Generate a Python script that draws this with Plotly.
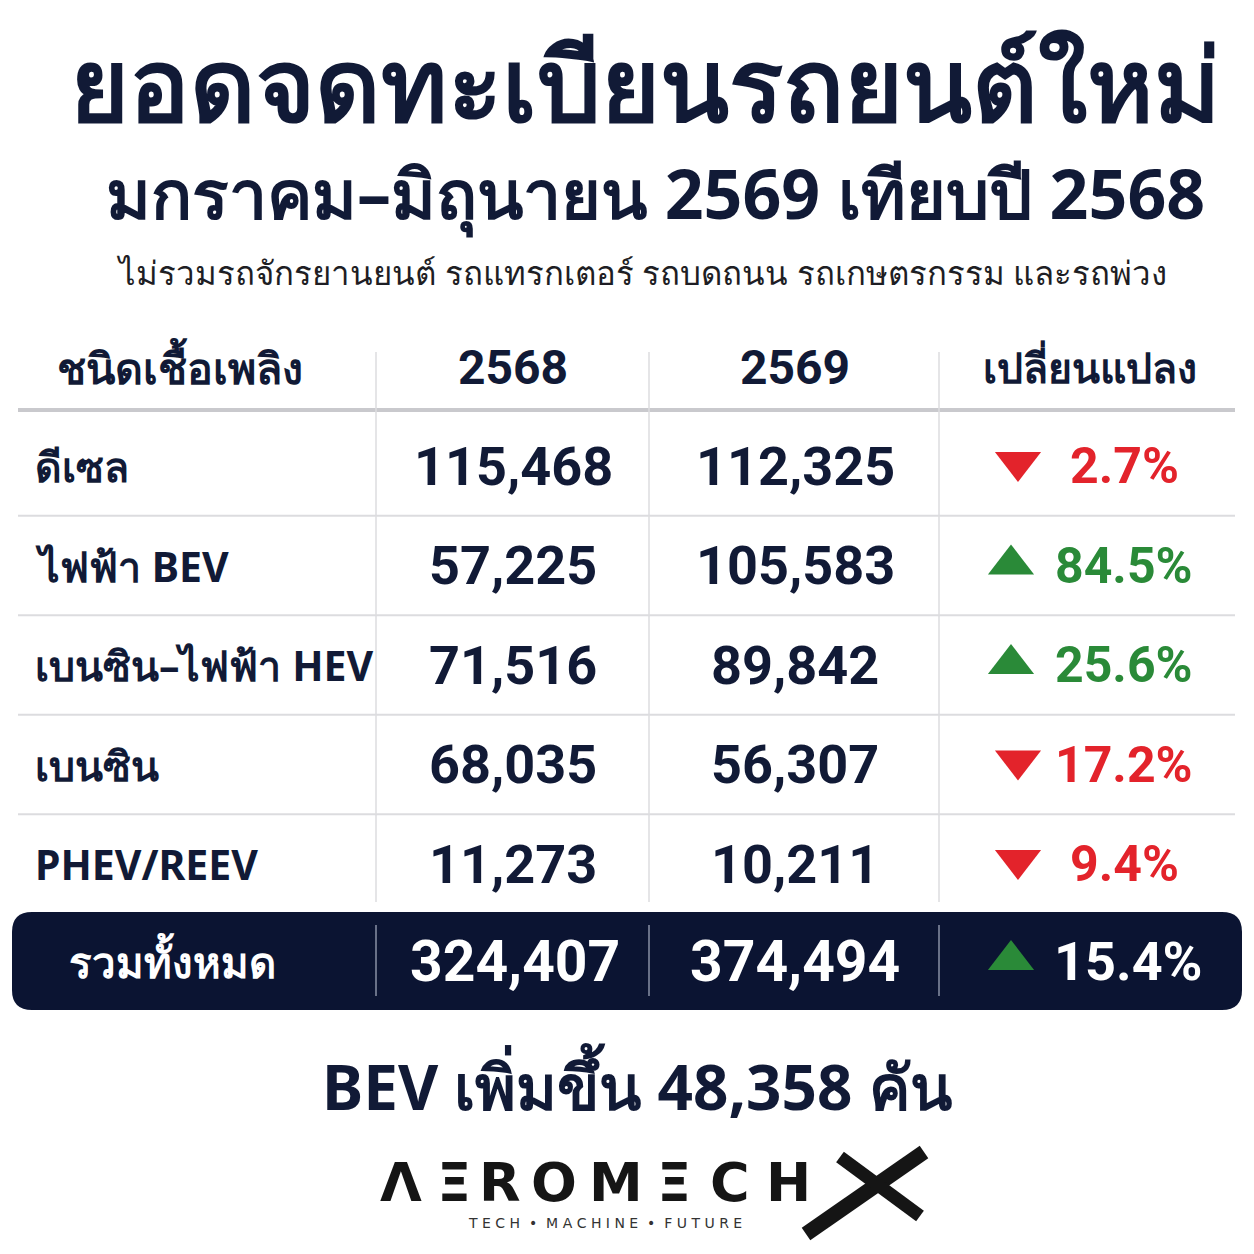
import plotly.graph_objects as go

fuel_types = ["ดีเซล", "ไฟฟ้า BEV", "เบนซิน–ไฟฟ้า HEV", "เบนซิน", "PHEV/REEV"]
reg_2568 = [115468, 57225, 71516, 68035, 11273]
reg_2569 = [112325, 105583, 89842, 56307, 10211]
change_pct = [-2.7, 84.5, 25.6, -17.2, -9.4]
total_label = "รวมทั้งหมด"
total_2568 = 324407
total_2569 = 374494
total_change = 15.4
bev_increase = 48358
col_headers = ["ชนิดเชื้อเพลิง", "2568", "2569", "เปลี่ยนแปลง"]

title = "ยอดจดทะเบียนรถยนต์ใหม่"
subtitle = "มกราคม–มิถุนายน 2569 เทียบปี 2568"
note = "ไม่รวมรถจักรยานยนต์ รถแทรกเตอร์ รถบดถนน รถเกษตรกรรม และรถพ่วง"

# layout (pixel space, y grows downward)
W = H = 1254
PAD = 8  # page body margin, axes are shifted so coords match screen pixels
NAVY = "#111a36"
RED = "#e3232b"
GREEN = "#2a8a38"
GRID = "#dcdcdf"
FONT = "Noto Sans, DejaVu Sans, sans-serif"
NUM_FONT = "Roboto, Noto Sans, sans-serif"

col_x = [376, 649, 939]           # vertical separators
val_x = [513, 795]                # centres of number columns
tri_x = 1016
pct_x = 1124
row_y0, row_h = 466, 99.5
row_y = [row_y0 + i * row_h for i in range(len(fuel_types))]
header_y = 367
total_y = 961

fig = go.Figure()
ann = []
shapes = []


def text(x, y, s, size, color=NAVY, family=FONT, anchor="center", bold=True):
    ann.append(dict(x=x, y=y, xref="x", yref="y", text=f"<b>{s}</b>" if bold else s,
                    showarrow=False, xanchor=anchor, yanchor="middle",
                    font=dict(size=size, color=color, family=family)))


def line(x0, y0, x1, y1, color=GRID, width=2):
    shapes.append(dict(type="line", x0=x0, y0=y0, x1=x1, y1=y1, xref="x", yref="y",
                       line=dict(color=color, width=width), layer="below"))


# titles
text(645, 82, title, 101)
text(655, 192, subtitle, 68)
text(641, 272, note, 33, color="#1e1e24", bold=False)

# header
text(55, header_y, col_headers[0], 43, anchor="left")
text(val_x[0], header_y, col_headers[1], 48, family=NUM_FONT)
text(val_x[1], header_y, col_headers[2], 48, family=NUM_FONT)
text(1090, header_y, col_headers[3], 41)
line(18, 410, 1235, 410, color="#c9c9cd", width=4)

# grid
for cx in col_x:
    line(cx, 352, cx, 902, width=1.5)
for i in range(len(fuel_types) - 1):
    yb = (row_y[i] + row_y[i + 1]) / 2
    line(18, yb, 1235, yb, width=2)

# body rows
tri_up_x, tri_up_y, tri_dn_x, tri_dn_y = [], [], [], []
for i, ft in enumerate(fuel_types):
    y = row_y[i]
    text(33, y, ft, 41, anchor="left")
    text(val_x[0], y, f"{reg_2568[i]:,}", 54, family=NUM_FONT)
    text(val_x[1], y, f"{reg_2569[i]:,}", 54, family=NUM_FONT)
    c = change_pct[i]
    text(pct_x, y, f"{abs(c):.1f}%", 50, color=GREEN if c > 0 else RED, family=NUM_FONT)
    if c > 0:
        tri_up_x.append(tri_x - 5); tri_up_y.append(y - 1)
    else:
        tri_dn_x.append(tri_x + 2); tri_dn_y.append(y - 4)

# total bar (rounded)
x0, x1, y0, y1, r = 12, 1242, 912, 1010, 20
shapes.append(dict(
    type="path", xref="x", yref="y", fillcolor="#0b1432", line=dict(width=0), layer="below",
    path=(f"M{x0 + r},{y0} L{x1 - r},{y0} Q{x1},{y0} {x1},{y0 + r} L{x1},{y1 - r} "
          f"Q{x1},{y1} {x1 - r},{y1} L{x0 + r},{y1} Q{x0},{y1} {x0},{y1 - r} "
          f"L{x0},{y0 + r} Q{x0},{y0} {x0 + r},{y0} Z")))
for cx in col_x:
    shapes.append(dict(type="line", x0=cx, x1=cx, y0=925, y1=996, xref="x", yref="y",
                       line=dict(color="#8a90a6", width=1.5)))
text(172, total_y, total_label, 42, color="white")
text(val_x[0] + 2, total_y, f"{total_2568:,}", 57, color="white", family=NUM_FONT)
text(val_x[1], total_y, f"{total_2569:,}", 57, color="white", family=NUM_FONT)
text(pct_x + 4, total_y, f"{total_change:.1f}%", 54, color="white", family=NUM_FONT)
tri_up_x.append(tri_x - 5); tri_up_y.append(total_y - 1)

fig.add_trace(go.Scatter(x=tri_up_x, y=tri_up_y, mode="markers", hoverinfo="skip",
                         marker=dict(symbol="triangle-up", size=40, color=GREEN, line=dict(width=0))))
fig.add_trace(go.Scatter(x=tri_dn_x, y=tri_dn_y, mode="markers", hoverinfo="skip",
                         marker=dict(symbol="triangle-down", size=40, color=RED, line=dict(width=0))))

# bottom note
text(637, 1085, f"BEV เพิ่มขึ้น {bev_increase:,} คัน", 62)

# logo
logo_chars = ["Λ", "Ξ", "R", "O", "M", "Ξ", "C", "H"]
logo_x = [401, 454, 500, 554, 616, 674, 730, 788]
for ch, lx in zip(logo_chars, logo_x):
    text(lx, 1182, ch, 54, color="#151515", family="DejaVu Sans, sans-serif")
line(806, 1234, 924, 1152, color="#151515", width=15)
line(840, 1157, 920, 1216, color="#151515", width=13)
text(605, 1223, "T E C H  •  M A C H I N E  •  F U T U R E", 14, color="#333333",
     family="DejaVu Sans, sans-serif", bold=False)

fig.update_layout(
    width=W, height=H,
    margin=dict(l=0, r=0, t=0, b=0),
    paper_bgcolor="white", plot_bgcolor="white",
    showlegend=False,
    xaxis=dict(range=[PAD, W + PAD], visible=False, fixedrange=True),
    yaxis=dict(range=[H + PAD, PAD], visible=False, fixedrange=True),
    annotations=ann, shapes=shapes,
)
fig.write_html("out.html")
